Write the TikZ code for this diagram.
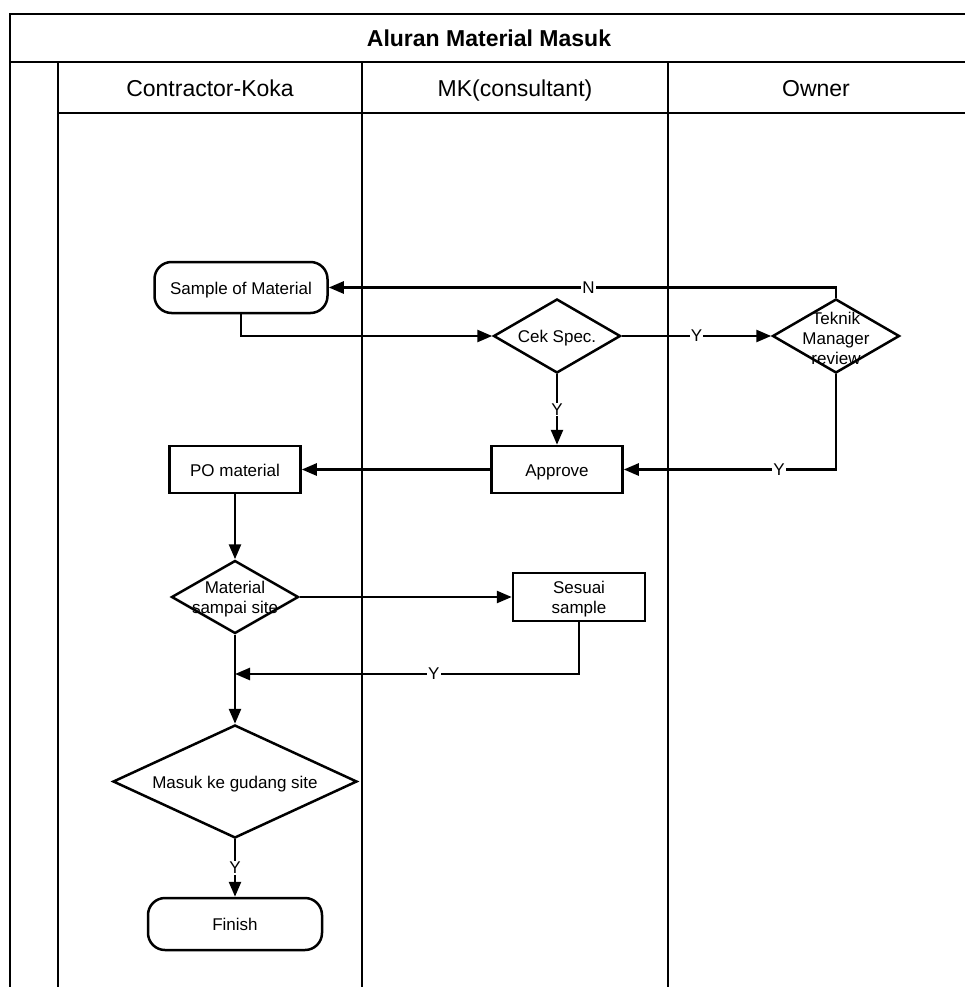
\documentclass[tikz,border=0pt]{standalone}
\usepackage{fontspec}
\setmainfont{Liberation Sans}
\usetikzlibrary{shapes.geometric,arrows.meta}
\tikzset{
  lane/.style={line width=1.7pt, line cap=rect},
  nodebase/.style={draw, line width=2.5pt, font=\fontsize{17}{21}\selectfont, align=center, inner sep=0pt, text height=13pt, text depth=0pt},
  proc/.style={nodebase, rectangle},
  term/.style={nodebase, rectangle, rounded corners=17pt},
  dec/.style={draw, line width=2.5pt, diamond, inner sep=0pt},
  dtext/.style={font=\fontsize{17}{20}\selectfont, align=center, inner sep=0pt, yshift=-2.5pt},
  conn/.style={line width=2.5pt, -{Triangle[length=15pt,width=12pt]}},
  lbl/.style={fill=white, inner sep=1pt, font=\fontsize{17}{19}\selectfont},
  head/.style={font=\fontsize{23}{27}\selectfont, inner sep=0pt, anchor=base},
}
\begin{document}
\begin{tikzpicture}[x=1pt,y=-1pt]
\useasboundingbox (0,0) rectangle (964,987);
% pool and lanes
\draw[lane] (964,14) -- (10,14) -- (10,987);
\draw[lane] (10,62) -- (964,62);
\draw[lane] (58,113) -- (964,113);
\draw[lane] (58,62) -- (58,987);
\draw[lane] (362,62) -- (362,987);
\draw[lane] (668,62) -- (668,987);
\node[head, font=\fontsize{23}{27}\selectfont\bfseries] (title) at (489,47) {Aluran Material Masuk};
\node[head] (h1) at (210,97) {Contractor-Koka};
\node[head] (h2) at (515,97) {MK(consultant)};
\node[head] (h3) at (816,97) {Owner};
% nodes
\node[term, minimum width=173pt, minimum height=51pt] (sample) at (241,287.5) {Sample of Material};
\node[dec, minimum width=127pt, minimum height=74pt] (cek) at (557,336) {};
\node[dtext] (cekt) at (cek.center) {Cek Spec.};
\node[dec, minimum width=127pt, minimum height=74pt] (tm) at (836,336) {};
\node[dtext] (tmt) at (tm.center) {Teknik\\Manager\\review};
\node[proc, minimum width=131pt, minimum height=47pt] (approve) at (557,469.5) {Approve};
\node[proc, minimum width=131pt, minimum height=47pt] (po) at (235,469.5) {PO material};
\node[dec, minimum width=127pt, minimum height=73pt] (msite) at (235,597) {};
\node[dtext] (msitet) at (msite.center) {Material\\sampai site};
\node[draw, line width=2.5pt, rectangle, minimum width=132pt, minimum height=48pt] (sesuai) at (579,597) {};
\node[dtext] (sesuait) at (sesuai.center) {Sesuai\\sample};
\node[dec, minimum width=244pt, minimum height=113pt] (masuk) at (235,781.5) {};
\node[dtext] (masukt) at (masuk.center) {Masuk ke gudang site};
\node[term, minimum width=174pt, minimum height=52pt] (finish) at (235,924) {Finish};
\coordinate (join) at (235,674);
% connectors
\draw[conn] (sample.south) |- (cek.west);
\draw[conn] (cek.east) -- node[lbl]{Y} (tm.west);
\draw[conn] (tm.north) |- node[lbl, pos=0.744]{N} (sample.east);
\draw[conn] (cek.south) -- node[lbl]{Y} (approve.north);
\draw[conn] (tm.south) |- node[lbl, pos=0.634]{Y} (approve.east);
\draw[conn] (approve.west) -- (po.east);
\draw[conn] (po.south) -- (msite.north);
\draw[conn] (msite.east) -- (sesuai.west);
\draw[conn] (sesuai.south) |- node[lbl, pos=0.711]{Y} (join);
\draw[conn] (msite.south) -- (masuk.north);
\draw[conn] (masuk.south) -- node[lbl]{Y} (finish.north);
\end{tikzpicture}
\end{document}
